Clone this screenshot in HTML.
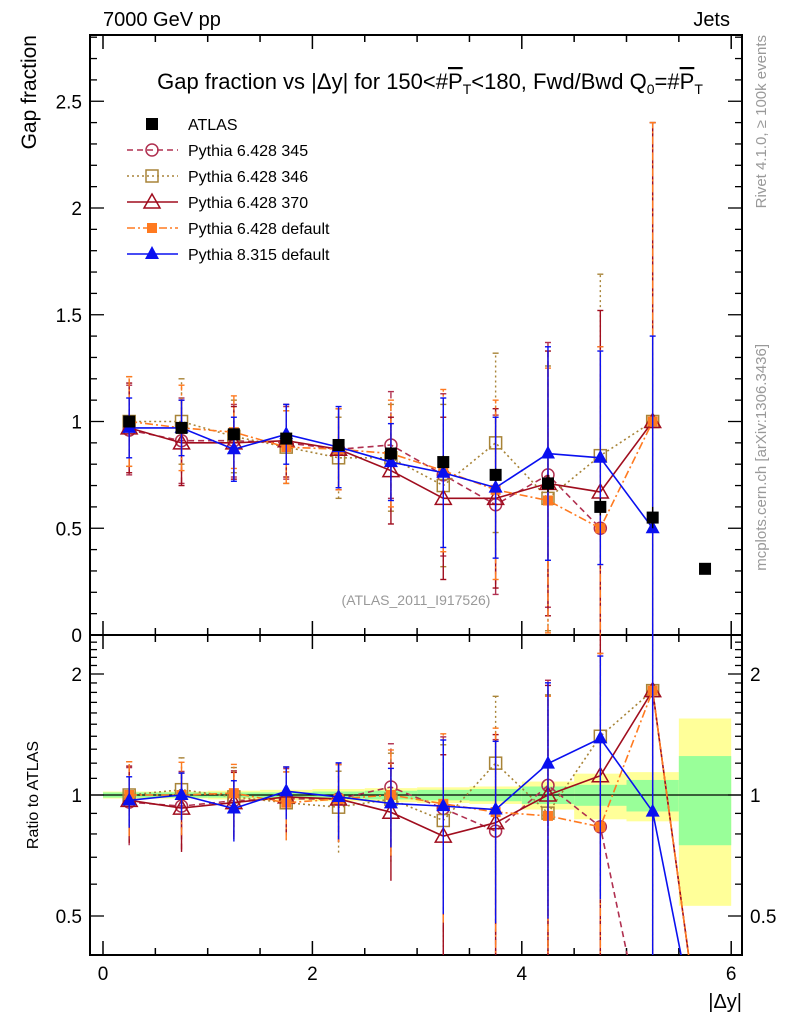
<!DOCTYPE html>
<html><head><meta charset="utf-8"><style>
body{margin:0;background:#fff;}
svg text{font-family:"Liberation Sans",sans-serif;}
</style></head><body>
<svg id="c" width="786" height="1024" xmlns="http://www.w3.org/2000/svg">
<g id="frames0"></g><g id="bands"></g><g id="frames"></g><g id="series"></g><g id="labels"></g>
</svg>
<script>
const xCenters=[0.25,0.75,1.25,1.75,2.25,2.75,3.25,3.75,4.25,4.75,5.25,5.75];
const atlas=[1.0,0.97,0.94,0.92,0.89,0.85,0.81,0.75,0.71,0.60,0.55,0.31];
const atlasErr=[0.02,0.02,0.02,0.02,0.02,0.03,0.03,0.03,0.04,0.04,0.05,0.02];
const statRel=[0.015,0.015,0.015,0.015,0.02,0.025,0.03,0.035,0.05,0.06,0.09,0.25];
const totLoRel=[0.02,0.02,0.025,0.03,0.035,0.04,0.045,0.05,0.08,0.13,0.14,0.47];
const totHiRel=[0.02,0.02,0.025,0.03,0.035,0.04,0.045,0.05,0.08,0.13,0.14,0.55];
const p345=[0.96,0.91,0.91,0.90,0.87,0.89,0.75,0.61,0.75,0.50,0,0];
const p346=[1.0,1.0,0.93,0.88,0.83,0.83,0.70,0.90,0.64,0.84,1.0,0];
const p370=[0.97,0.90,0.90,0.91,0.87,0.77,0.64,0.64,0.71,0.67,1.0,0];
const pdef=[1.0,0.97,0.95,0.88,0.87,0.85,0.77,0.68,0.63,0.50,1.0,0];
const p8=[0.97,0.97,0.87,0.94,0.88,0.81,0.76,0.69,0.85,0.83,0.50,0];
const errMC=[0.21,0.2,0.17,0.17,0.19,0.25,0.38,0.42,0.62,0.85,1.4,0];
const err8=[0.14,0.13,0.15,0.14,0.19,0.18,0.35,0.33,0.5,0.5,0.9,0];
const yTicksMain=[0,0.5,1,1.5,2,2.5];
const yTicksRatio=[0.5,1,2];
const xTicks=[0,2,4,6];

const NS="http://www.w3.org/2000/svg";
const X0=90,X1=742,MT=35,MB=635,RT=635,RB=955;
const xs=v=>103+104.7*v;
const ym=v=>635-213.5*v;
const yr=r=>795-121*Math.log2(Math.max(r,0.2));
function el(tag,at,parent){const e=document.createElementNS(NS,tag);for(const k in at)e.setAttribute(k,at[k]);(typeof parent==='string'?document.getElementById(parent):parent).appendChild(e);return e;}
function txt(s,at,parent){const e=el('text',at,parent||'labels');e.textContent=s;return e;}

const defs=el('defs',{},'frames0');
const cm=el('clipPath',{id:'cm'},defs);el('rect',{x:X0,y:MT,width:X1-X0,height:MB-MT},cm);
const cr=el('clipPath',{id:'cr'},defs);el('rect',{x:X0,y:RT,width:X1-X0,height:RB-RT},cr);

const gb=el('g',{'clip-path':'url(#cr)'},'bands');
atlas.forEach((a,i)=>{
  const xa=xs(xCenters[i]-0.25),xb=xs(xCenters[i]+0.25);
  const b1=el('rect',{x:xa,y:yr(1+totHiRel[i]),width:xb-xa,height:yr(1-totLoRel[i])-yr(1+totHiRel[i]),fill:'#ffff99'},gb);
  
  const b2=el('rect',{x:xa,y:yr(1+statRel[i]),width:xb-xa,height:yr(1-statRel[i])-yr(1+statRel[i]),fill:'#99ff99'},gb);
  
});
el('line',{x1:X0,x2:X1,y1:yr(1),y2:yr(1),stroke:'#000','stroke-width':1.2},'bands');

for(const [t,b,nm] of [[MT,MB,'main-plot-frame'],[RT,RB,'ratio-plot-frame']]){
  const f=el('rect',{x:X0,y:t,width:X1-X0,height:b-t,fill:'none',stroke:'#000','stroke-width':2},'frames');
  
}
for(let v=0;v<=6.01;v+=0.5){const maj=Math.abs(v-Math.round(v/2)*2)<0.01;const L=maj?14:7;
  for(const [t,b] of [[MT,MB],[RT,RB]]){el('line',{x1:xs(v),x2:xs(v),y1:b,y2:b-L,stroke:'#000','stroke-width':1.5},'frames');el('line',{x1:xs(v),x2:xs(v),y1:t,y2:t+L,stroke:'#000','stroke-width':1.5},'frames');}}
xTicks.forEach(v=>{const t=txt(String(v),{x:xs(v),y:980,'font-size':19,'text-anchor':'middle'});});
for(let v=0;v<=2.85;v+=0.1){const maj=Math.abs(v*2-Math.round(v*2))<0.01;const L=maj?14:7;
  el('line',{x1:X0,x2:X0+L,y1:ym(v),y2:ym(v),stroke:'#000','stroke-width':1.3},'frames');
  el('line',{x1:X1,x2:X1-L,y1:ym(v),y2:ym(v),stroke:'#000','stroke-width':1.3},'frames');}
yTicksMain.forEach(v=>{const t=txt(String(v),{x:82,y:ym(v)+7,'font-size':19,'text-anchor':'end'});});
for(let r=0.4;r<=2.5;r+=0.1){const maj=[0.5,1,2].some(m=>Math.abs(m-r)<0.01);const L=maj?14:7;
  el('line',{x1:X0,x2:X0+L,y1:yr(r),y2:yr(r),stroke:'#000','stroke-width':1.3},'frames');
  el('line',{x1:X1,x2:X1-L,y1:yr(r),y2:yr(r),stroke:'#000','stroke-width':1.3},'frames');}
yTicksRatio.forEach(v=>{const a=txt(String(v),{x:82,y:yr(v)+7,'font-size':19,'text-anchor':'end'});
  const b=txt(String(v),{x:750,y:yr(v)+7,'font-size':19});});

const series=[
 {name:'pythia-6428-345',vals:p345,err:errMC,col:'#b03050',dash:'6,4',m:'circle'},
 {name:'pythia-6428-346',vals:p346,err:errMC,col:'#a88438',dash:'2,3',m:'osquare'},
 {name:'pythia-6428-370',vals:p370,err:errMC,col:'#a00d1e',dash:'',m:'otri'},
 {name:'pythia-6428-default',vals:pdef,err:errMC,col:'#ff7a20',dash:'8,3,2,3',m:'fsquare'},
 {name:'pythia-8315-default',vals:p8,err:err8,col:'#0a10f0',dash:'',m:'ftri'}];
function marker(m,x,y,col,g){
  if(m==='circle')return el('circle',{cx:x,cy:y,r:6,fill:'none',stroke:col,'stroke-width':1.5},g);
  if(m==='osquare')return el('rect',{x:x-6,y:y-6,width:12,height:12,fill:'none',stroke:col,'stroke-width':1.5},g);
  if(m==='fsquare')return el('rect',{x:x-5,y:y-5,width:10,height:10,fill:col},g);
  if(m==='otri')return el('path',{d:`M${x} ${y-8}L${x+8} ${y+6}L${x-8} ${y+6}Z`,fill:'none',stroke:col,'stroke-width':1.5},g);
  if(m==='ftri')return el('path',{d:`M${x} ${y-8}L${x+7} ${y+5}L${x-7} ${y+5}Z`,fill:col},g);
  return el('rect',{x:x-6,y:y-6,width:12,height:12,fill:col},g);
}
const gm=el('g',{'clip-path':'url(#cm)'},'series');
const gr=el('g',{'clip-path':'url(#cr)'},'series');
series.forEach(s=>{
  let pm='',pr='',first=true;
  for(let i=0;i<11;i++){if(s.vals[i]<=0)continue;pm+=(first?'M':'L')+xs(xCenters[i])+' '+ym(s.vals[i]);first=false;}
  for(let i=0;i<12;i++){pr+=(i?'L':'M')+xs(xCenters[i])+' '+yr(s.vals[i]/atlas[i]);}
  const l1=el('path',{d:pm,fill:'none',stroke:s.col,'stroke-width':1.6,'stroke-dasharray':s.dash},gm);
  
  const l2=el('path',{d:pr,fill:'none',stroke:s.col,'stroke-width':1.6,'stroke-dasharray':s.dash},gr);
  
  for(let i=0;i<11;i++){
    const x=xs(xCenters[i]),v=s.vals[i],e=s.err[i],a=atlas[i];
    if(v<=0)continue;
    el('line',{x1:x,x2:x,y1:ym(v-e),y2:ym(v+e),stroke:s.col,'stroke-width':1.4,'stroke-dasharray':s.dash},gm);
    el('line',{x1:x-3,x2:x+3,y1:ym(v+e),y2:ym(v+e),stroke:s.col,'stroke-width':1.4},gm);
    el('line',{x1:x-3,x2:x+3,y1:ym(v-e),y2:ym(v-e),stroke:s.col,'stroke-width':1.4},gm);
    el('line',{x1:x,x2:x,y1:yr((v-e)/a),y2:yr((v+e)/a),stroke:s.col,'stroke-width':1.4,'stroke-dasharray':s.dash},gr);
    el('line',{x1:x-3,x2:x+3,y1:yr((v+e)/a),y2:yr((v+e)/a),stroke:s.col,'stroke-width':1.4},gr);
    const mk=marker(s.m,x,ym(v),s.col,gm);
    const mr=marker(s.m,x,yr(v/a),s.col,gr);
  }
});
atlas.forEach((a,i)=>{const x=xs(xCenters[i]);
  el('line',{x1:x,x2:x,y1:ym(a-atlasErr[i]),y2:ym(a+atlasErr[i]),stroke:'#000','stroke-width':1.4},gm);
  const p=el('rect',{x:x-6,y:ym(a)-6,width:12,height:12,fill:'#000'},gm);});

const leg=[['ATLAS','#000','','data'],['Pythia 6.428 345','#b03050','6,4','circle'],['Pythia 6.428 346','#a88438','2,3','osquare'],['Pythia 6.428 370','#a00d1e','','otri'],['Pythia 6.428 default','#ff7a20','8,3,2,3','fsquare'],['Pythia 8.315 default','#0a10f0','','ftri']];
leg.forEach((L,i)=>{const y=124+26*i;
  if(L[3]!=='data')el('line',{x1:127,x2:178,y1:y,y2:y,stroke:L[1],'stroke-width':1.6,'stroke-dasharray':L[2]},'labels');
  marker(L[3],152,y,L[1],'labels');
  const t=txt(L[0],{x:188,y:y+6,'font-size':16});});

const labs=[
 ['7000 GeV pp',{x:103,y:26,'font-size':20},'energy-label'],
 ['Jets',{x:730,y:26,'font-size':20,'text-anchor':'end'},'process-label'],
 ['(ATLAS_2011_I917526)',{x:416,y:605,'font-size':14,fill:'#999','text-anchor':'middle'},'analysis-id'],
 ['|Δy|',{x:742,y:1008,'font-size':20,'text-anchor':'end'},'x-axis-title'],
 ['Gap fraction',{x:0,y:0,'font-size':21,transform:'translate(36,35) rotate(-90)','text-anchor':'end'},'y-axis-title'],
 ['Ratio to ATLAS',{x:0,y:0,'font-size':16,transform:'translate(38,795) rotate(-90)','text-anchor':'middle'},'ratio-axis-title'],
 ['Rivet 4.1.0, ≥ 100k events',{x:0,y:0,'font-size':15,fill:'#999',transform:'translate(766,35) rotate(-90)','text-anchor':'end'},'rivet-label'],
 ['mcplots.cern.ch [arXiv:1306.3436]',{x:0,y:0,'font-size':15,fill:'#999',transform:'translate(766,344) rotate(-90)','text-anchor':'end'},'mcplots-label']];
labs.forEach(([s,a,n])=>{const t=txt(s,a);});
const ti=txt('',{x:430,y:89,'font-size':22,'text-anchor':'middle'});

ti.innerHTML='Gap fraction vs |Δy| for 150&lt;#<tspan text-decoration="overline">P</tspan><tspan font-size="14" dy="5">T</tspan><tspan dy="-5">&lt;180, Fwd/Bwd Q</tspan><tspan font-size="14" dy="5">0</tspan><tspan dy="-5">=#</tspan><tspan text-decoration="overline">P</tspan><tspan font-size="14" dy="5">T</tspan>';
</script>
</body></html>
